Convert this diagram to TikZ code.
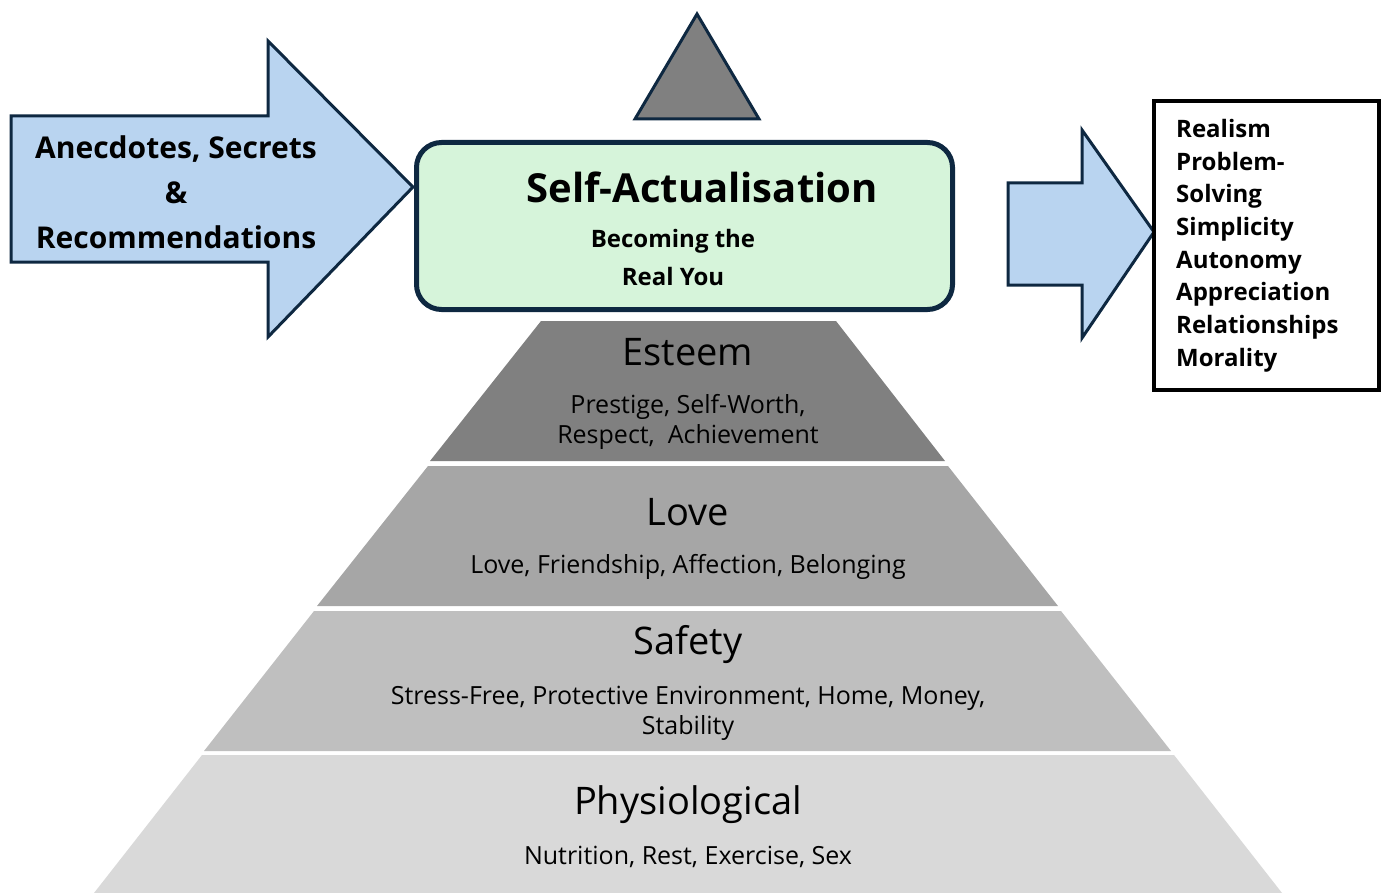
\documentclass[tikz,border=0pt]{standalone}
\usepackage{fontspec}
\setmainfont{Open Sans}
\usetikzlibrary{positioning}

\definecolor{navy}{HTML}{0E2841}
\definecolor{arrowblue}{HTML}{B9D4F0}
\definecolor{mint}{HTML}{D6F4DA}
\definecolor{esteemgray}{HTML}{808080}
\definecolor{lovegray}{HTML}{A6A6A6}
\definecolor{safetygray}{HTML}{BFBFBF}
\definecolor{physgray}{HTML}{D9D9D9}

\begin{document}
\begin{tikzpicture}[x=1pt, y=-1pt,
    bigarrow/.style={draw=navy, fill=arrowblue, line width=3pt, line join=miter},
    layertitle/.style={font=\fontsize{38}{42}\selectfont},
    layertext/.style={font=\fontsize{25}{30}\selectfont, align=center},
    listtext/.style={font=\bfseries\fontsize{24}{32.7}\selectfont, align=left}
    ]
        \useasboundingbox (0,0) rectangle (1388,893);

        %Pyramid
        \fill[esteemgray] (541,321) -- (836,321) -- (945,461) -- (430,461) -- cycle;
        \fill[lovegray]   (428,466) -- (948,466) -- (1058,606) -- (317,606) -- cycle;
        \fill[safetygray] (314,611) -- (1061,611) -- (1171,751) -- (204,751) -- cycle;
        \fill[physgray]   (202,755) -- (1174,755) -- (1282,893) -- (94,893) -- cycle;

        \node[layertitle] (esteem)   at (688,352) {Esteem};
        \node[layertext]  (esteemtx) at (688,422) {Prestige, Self-Worth,\\Respect,~ Achievement};
        \node[layertitle] (love)     at (688,512) {Love};
        \node[layertext]  (lovetx)   at (688,567) {Love, Friendship, Affection, Belonging};
        \node[layertitle] (safety)   at (688,645) {Safety};
        \node[layertext]  (safetytx) at (688,713) {Stress-Free, Protective Environment, Home, Money,\\Stability};
        \node[layertitle] (phys)     at (688,805) {Physiological};
        \node[layertext]  (phystx)   at (688,857) {Nutrition, Rest, Exercise, Sex};

        %Top
        \draw[draw=navy, fill=esteemgray, line width=3pt, line join=miter]
            (697,14) -- (759,119) -- (635,119) -- cycle;
        \node[draw=navy, fill=mint, line width=5pt, rounded corners=25pt,
              minimum width=536pt, minimum height=167pt]
            (selfbox) at (684.5,226) {};
        \node[font=\bfseries\fontsize{40}{42}\selectfont]
            (selftitle) at (702,187) {Self-Actualisation};
        \node[font=\bfseries\fontsize{24}{38}\selectfont, align=center]
            (selftx) at (673,257) {Becoming the\\Real You};

        %Arrows
        \draw[bigarrow] (11,116) -- (268,116) -- (268,41) -- (413,187)
            -- (268,337) -- (268,262) -- (11,262) -- cycle;
        \node[font=\bfseries\fontsize{30}{45}\selectfont, align=center]
            (inputs) at (176,192) {Anecdotes, Secrets\\\&\\Recommendations};
        \draw[bigarrow] (1008,183) -- (1082,183) -- (1082,130) -- (1154,232)
            -- (1082,338) -- (1082,285) -- (1008,285) -- cycle;

        %Traits
        \draw[line width=4.5pt] (1154,101) rectangle (1379,390);
        \node[listtext, anchor=north west, inner sep=0pt] (traits) at (1176,119)
            {Realism\\Problem-\\Solving\\Simplicity\\Autonomy\\Appreciation\\Relationships\\Morality};
    \end{tikzpicture}
\end{document}
